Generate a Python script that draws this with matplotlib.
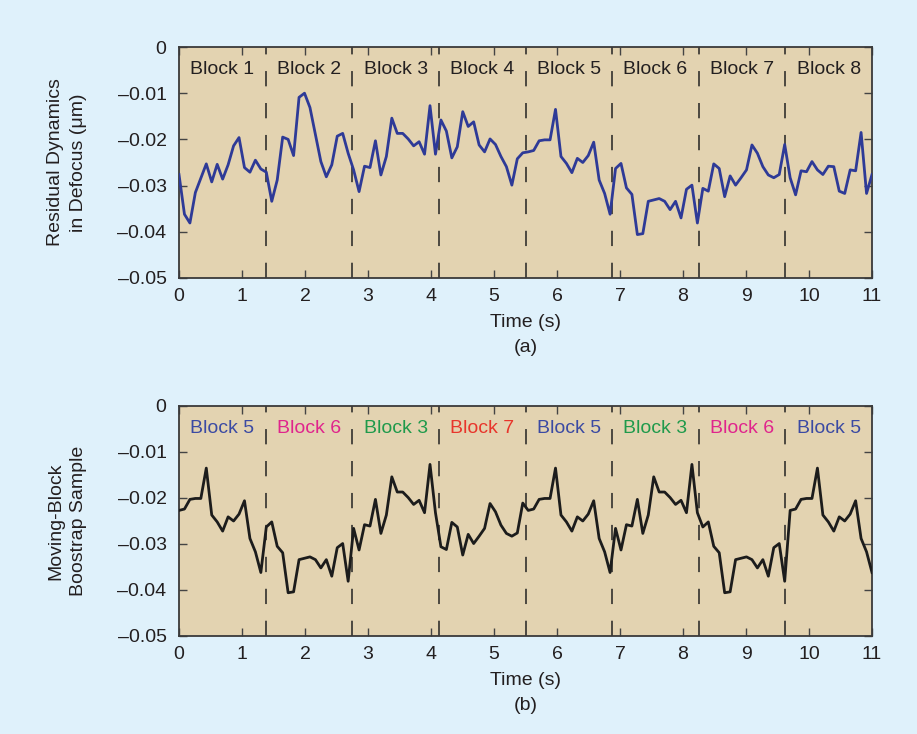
import numpy as np
import matplotlib
matplotlib.use("Agg")
import matplotlib.pyplot as plt
from matplotlib import font_manager

names = {f.name for f in font_manager.fontManager.ttflist}
fam = [f for f in ["Liberation Sans Narrow", "Liberation Sans", "DejaVu Sans"] if f in names]
plt.rcParams['font.family'] = fam
plt.rcParams['lines.scale_dashes'] = False

# Residual defocus dynamics, 128 samples (16 per block), values in micrometres
residual = [
    -0.0276, -0.0362, -0.0381, -0.0315, -0.0284, -0.0253, -0.0292, -0.0254,
    -0.0286, -0.0255, -0.0214, -0.0196, -0.0261, -0.0271, -0.0245, -0.0264,
    -0.0271, -0.0334, -0.0288, -0.0195, -0.0200, -0.0235, -0.0109, -0.0100,
    -0.0131, -0.0190, -0.0248, -0.0281, -0.0255, -0.0193, -0.0187, -0.0230,
    -0.0266, -0.0313, -0.0258, -0.0261, -0.0203, -0.0277, -0.0237, -0.0154,
    -0.0187, -0.0187, -0.0199, -0.0214, -0.0205, -0.0232, -0.0127, -0.0232,
    -0.0158, -0.0182, -0.0240, -0.0216, -0.0140, -0.0172, -0.0162, -0.0212,
    -0.0227, -0.0199, -0.0211, -0.0237, -0.0259, -0.0299, -0.0242, -0.0229,
    -0.0227, -0.0224, -0.0203, -0.0201, -0.0201, -0.0135, -0.0237, -0.0252,
    -0.0272, -0.0241, -0.0250, -0.0235, -0.0206, -0.0288, -0.0317, -0.0362,
    -0.0263, -0.0252, -0.0305, -0.0319, -0.0406, -0.0404, -0.0334, -0.0331,
    -0.0328, -0.0334, -0.0352, -0.0334, -0.0370, -0.0308, -0.0299, -0.0381,
    -0.0306, -0.0312, -0.0253, -0.0263, -0.0324, -0.0279, -0.0299, -0.0283,
    -0.0266, -0.0212, -0.0230, -0.0259, -0.0277, -0.0283, -0.0276, -0.0211,
    -0.0283, -0.0320, -0.0268, -0.0270, -0.0248, -0.0266, -0.0276, -0.0258,
    -0.0259, -0.0312, -0.0317, -0.0266, -0.0268, -0.0185, -0.0317, -0.0276,
]
n_blocks = 8
t_end = 11.0
bootstrap_order = [5, 6, 3, 7, 5, 3, 6, 5]
block_colors = {3: "#1f9a4b", 5: "#3b4aa3", 6: "#e0248c", 7: "#e8352b"}
yticks = [0, -0.01, -0.02, -0.03, -0.04, -0.05]
ytick_labels = ["0", "\u20130.01", "\u20130.02", "\u20130.03", "\u20130.04", "\u20130.05"]
xticks = list(range(0, 12))

res = np.array(residual)
N = len(res)
L = N // n_blocks
t = np.linspace(0, t_end, N)
boot = np.concatenate([res[(b - 1) * L:b * L] for b in bootstrap_order])
edges = [k * t_end / n_blocks for k in range(1, n_blocks)]
centers = [(k + 0.5) * t_end / n_blocks for k in range(n_blocks)]

BG = "#dff1fb"
FACE = "#e3d3b1"
TXT = "#231f20"

fig = plt.figure(figsize=(9.17, 7.34), dpi=100, facecolor=BG)
ax1 = fig.add_axes([179 / 917, 1 - 278 / 734, 693 / 917, 231 / 734])
ax2 = fig.add_axes([179 / 917, 1 - 636 / 734, 693 / 917, 230 / 734])


def style(ax, ylabel, xlabel):
    ax.set_facecolor(FACE)
    ax.set_xlim(0, t_end)
    ax.set_ylim(-0.05, 0)
    ax.set_xticks(xticks)
    ax.set_xticklabels([str(x) for x in xticks])
    ax.set_yticks(yticks)
    ax.set_yticklabels(ytick_labels)
    ax.tick_params(direction="in", length=6, width=1.0, color="#444444",
                   labelsize=14, labelcolor=TXT, top=True, right=True)
    ax.tick_params(axis="y", pad=9)
    ax.tick_params(axis="x", pad=7)
    for s in ax.spines.values():
        s.set_color("#3a3a3a")
        s.set_linewidth(1.3)
    ax.set_ylabel(ylabel, fontsize=14, color=TXT, labelpad=22, linespacing=1.45)
    ax.set_xlabel(xlabel, fontsize=14, color=TXT, labelpad=7, linespacing=1.6)
    for e in edges:
        ax.axvline(e, color="#222222", lw=1.1, dashes=(11, 12), zorder=1)


style(ax1, "Residual Dynamics\nin Defocus (\u03bcm)", "Time (s)\n(a)")
style(ax2, "Moving-Block\nBoostrap Sample", "Time (s)\n(b)")

ax1.plot(t, res, color="#2e3a97", lw=2.0, zorder=3)
ax2.plot(t, boot, color="#1c1c1c", lw=2.0, zorder=3)

for k, c in enumerate(centers):
    ax1.text(c, -0.0048, f"Block {k + 1}", ha="center", va="center",
             fontsize=14, color=TXT, zorder=4)
for k, b in enumerate(bootstrap_order):
    ax2.text(centers[k], -0.0048, f"Block {b}", ha="center", va="center",
             fontsize=14, color=block_colors[b], zorder=4)

fig.savefig("out.png", dpi=100, facecolor=BG)
